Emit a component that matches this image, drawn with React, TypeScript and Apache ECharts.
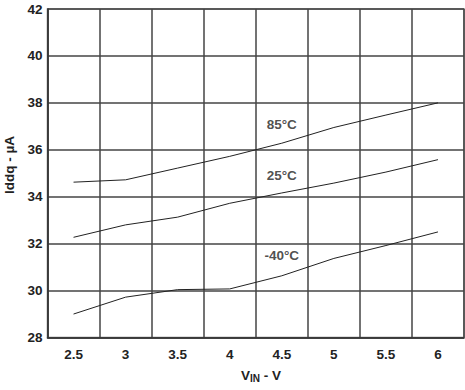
import React, { useEffect, useRef } from "react";
import * as echarts from "echarts";

const vinCategories = ["2.5", "3", "3.5", "4", "4.5", "5", "5.5", "6"];
const yTicks = [28, 30, 32, 34, 36, 38, 40, 42];
const iddq85 = [34.62, 34.72, 35.22, 35.72, 36.28, 36.95, 37.48, 38.0];
const iddq25 = [32.27, 32.8, 33.13, 33.72, 34.16, 34.58, 35.05, 35.58];
const iddqM40 = [29.0, 29.72, 30.04, 30.07, 30.63, 31.37, 31.92, 32.5];
const curveLabels = [
  { text: "85°C", x: "4.5", y: 37.06 },
  { text: "25°C", x: "4.5", y: 34.89 },
  { text: "-40°C", x: "4.5", y: 31.51 },
];

const FONT = "'Liberation Sans', Arial, sans-serif";

export default function App() {
  const ref = useRef<HTMLDivElement>(null);
  useEffect(() => {
    if (!ref.current) return;
    const chart = echarts.init(ref.current, null, { renderer: "svg" });
    const lineStyle = { color: "#222", width: 1 };
    chart.setOption({
      animation: false,
      grid: {
        left: 47.5,
        right: 1,
        top: 9,
        bottom: 52.5,
        show: true,
        borderColor: "#777",
        borderWidth: 1.5,
      },
      xAxis: {
        type: "category",
        data: vinCategories,
        boundaryGap: true,
        axisLine: { show: true, lineStyle: { color: "#333", width: 1.5 } },
        axisTick: { show: false },
        axisLabel: {
          interval: 0,
          margin: 10,
          color: "#222",
          fontFamily: FONT,
          fontWeight: "bold",
          fontSize: 13.5,
        },
        splitLine: {
          show: true,
          interval: 0,
          lineStyle: { color: "#444", width: 1.5 },
        },
      },
      yAxis: {
        type: "value",
        min: yTicks[0],
        max: yTicks[yTicks.length - 1],
        interval: 2,
        axisLine: { show: true, lineStyle: { color: "#333", width: 1.5 } },
        axisTick: { show: false },
        axisLabel: {
          margin: 5,
          color: "#222",
          fontFamily: FONT,
          fontWeight: "bold",
          fontSize: 13.5,
        },
        splitLine: { show: true, lineStyle: { color: "#444", width: 1.5 } },
      },
      series: [
        { type: "line", data: iddq85, symbol: "none", lineStyle },
        { type: "line", data: iddq25, symbol: "none", lineStyle },
        { type: "line", data: iddqM40, symbol: "none", lineStyle },
        {
          type: "scatter",
          symbolSize: 0,
          data: curveLabels.map((l) => ({ value: [l.x, l.y], name: l.text })),
          label: {
            show: true,
            position: "inside",
            formatter: (p: any) => p.name,
            color: "#222",
            fontFamily: FONT,
            fontWeight: "bold",
            fontSize: 13.5,
          },
        },
      ],
      graphic: [
        {
          type: "text",
          x: 9,
          y: 165,
          rotation: Math.PI / 2,
          style: {
            text: "Iddq - µA",
            fill: "#222",
            font: `bold 13.5px ${FONT}`,
            align: "center",
            verticalAlign: "middle",
          },
        },
        {
          type: "text",
          x: 261,
          y: 375,
          style: {
            text: "{a|V}{b|IN}{a| - V}",
            align: "center",
            verticalAlign: "middle",
            rich: {
              a: { fill: "#222", fontFamily: FONT, fontWeight: "bold", fontSize: 13.5 },
              b: {
                fill: "#222",
                fontFamily: FONT,
                fontWeight: "bold",
                fontSize: 10,
                padding: [6, 0, 0, 0],
              },
            },
          },
        },
      ],
    });
    return () => chart.dispose();
  }, []);
  return (
    <div
      ref={ref}
      style={{ position: "absolute", left: 0, top: 0, width: 465, height: 390 }}
    />
  );
}
